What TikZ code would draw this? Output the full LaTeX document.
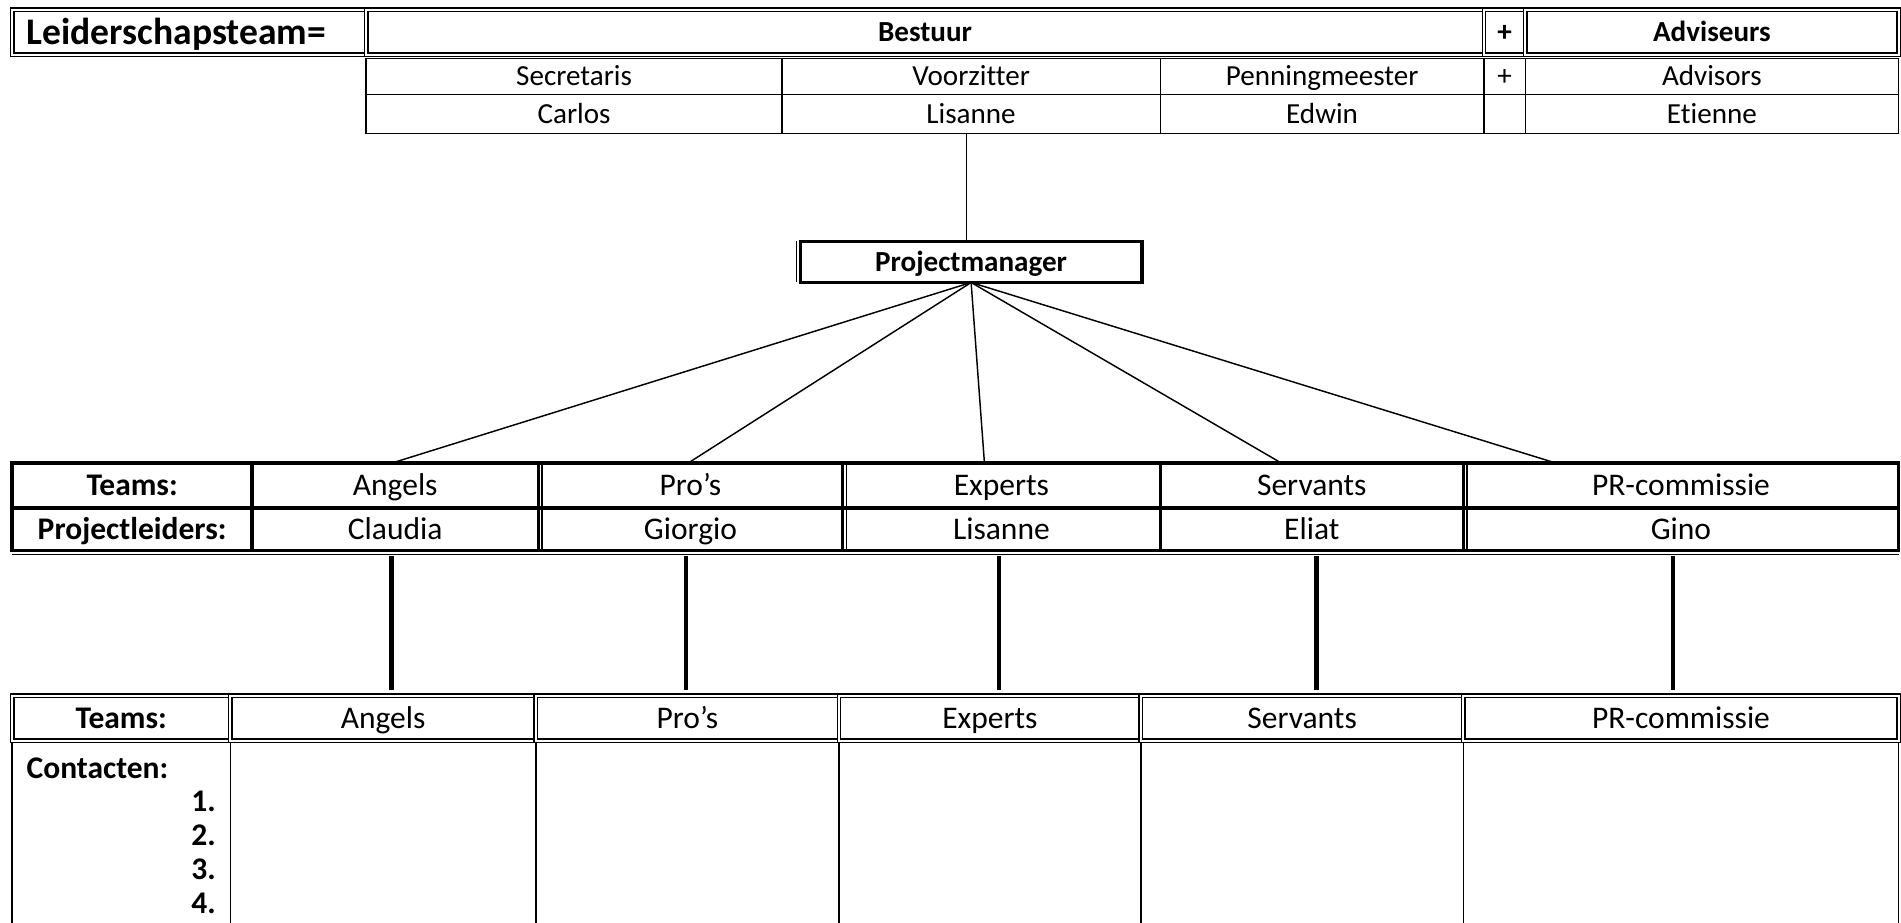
\documentclass[tikz,border=0pt]{standalone}
\usepackage{fontspec}
\setmainfont{Carlito}[Ligatures=NoCommon]
\newcommand\tcell[7]{\node[#1,minimum width={(#5)-(#3)},minimum height={(#6)-(#4)}] (#2) at ({((#3)+(#5))/2},{((#4)+(#6))/2}) {#7};}
\begin{document}
\begin{tikzpicture}[x=1pt,y=-1pt,
  base/.style={inner sep=0pt, outer sep=0pt, text=black},
  fsmall/.style={font=\fontsize{24}{28}\selectfont, text height=15.5pt, text depth=0pt},
  fsmallb/.style={font=\fontsize{24}{28}\selectfont\bfseries, text height=15.5pt, text depth=0pt},
  fbig/.style={font=\fontsize{26}{30}\selectfont, text height=16.8pt, text depth=0pt},
  fbigb/.style={font=\fontsize{26}{30}\selectfont\bfseries, text height=16.8pt, text depth=0pt},
  dblcell/.style={base, draw=black, double=white, line width=1.2pt, double distance=1.6pt},
  thincell/.style={base, draw=black, line width=1.1pt},
  thickcell/.style={base, draw=black, line width=2.8pt},
  pmbox/.style={base, draw=black, line width=2.6pt},
  fanline/.style={line width=1.2pt},
  vconn/.style={line width=3.6pt},
  thinline/.style={line width=1.1pt}
]
\useasboundingbox (0,0) rectangle (1568,761);

% ---------- top table, row 1 ----------
\tcell{dblcell,font=\fontsize{31}{35}\selectfont\bfseries,text height=20pt,text depth=0pt,text width={302-10-24},align=left}{lead}{10}{8}{302}{45}{Leiderschapsteam=}
\tcell{dblcell,fsmallb}{bestuur}{302}{8}{1224}{45}{Bestuur}
\tcell{dblcell,fsmallb}{plus1}{1224}{8}{1258}{45}{+}
\tcell{dblcell,fsmallb}{adviseurs}{1258}{8}{1566}{45}{Adviseurs}

% ---------- top table, rows 2-3 ----------
\tcell{thincell,fsmall}{secr}{302}{48}{645}{78}{Secretaris}
\tcell{thincell,fsmall}{voorz}{645}{48}{957}{78}{Voorzitter}
\tcell{thincell,fsmall}{penn}{957}{48}{1224}{78}{Penningmeester}
\tcell{thincell,fsmall}{plus2}{1224}{48}{1258}{78}{+}
\tcell{thincell,fsmall}{advisors}{1258}{48}{1566}{78}{Advisors}
\tcell{thincell,fsmall}{carlos}{302}{78}{645}{110}{Carlos}
\tcell{thincell,fsmall}{lisTop}{645}{78}{957}{110}{Lisanne}
\tcell{thincell,fsmall}{edwin}{957}{78}{1224}{110}{Edwin}
\tcell{thincell,fsmall}{blank}{1224}{78}{1258}{110}{}
\tcell{thincell,fsmall}{etienne}{1258}{78}{1566}{110}{Etienne}

% ---------- project manager ----------
\tcell{pmbox,fsmallb}{pm}{660}{199}{942}{233}{Projectmanager}
\draw[thinline] ([xshift=-3pt]pm.north west) -- ([xshift=-3pt]pm.south west);
\draw[fanline] ([xshift=-4pt]lisTop.south) -- ([xshift=-4pt]lisTop.south |- pm.north);

% ---------- middle table ----------
\tcell{thickcell,fbigb}{mTeams}{10}{382}{208}{419}{Teams:}
\tcell{thickcell,fbig}{mAngels}{208}{382}{444}{419}{Angels}
\tcell{thickcell,fbig}{mPros}{444}{382}{695}{419}{Pro’s}
\tcell{thickcell,fbig}{mExperts}{695}{382}{957}{419}{Experts}
\tcell{thickcell,fbig}{mServants}{957}{382}{1207}{419}{Servants}
\tcell{thickcell,fbig}{mPR}{1207}{382}{1566}{419}{PR-commissie}
\tcell{thickcell,fbigb}{mLeiders}{10}{419}{208}{454}{Projectleiders:}
\tcell{thickcell,fbig}{claudia}{208}{419}{444}{454}{Claudia}
\tcell{thickcell,fbig}{giorgio}{444}{419}{695}{454}{Giorgio}
\tcell{thickcell,fbig}{lisMid}{695}{419}{957}{454}{Lisanne}
\tcell{thickcell,fbig}{eliat}{957}{419}{1207}{454}{Eliat}
\tcell{thickcell,fbig}{gino}{1207}{419}{1566}{454}{Gino}
% double rules of the middle table
\draw[thinline] ([xshift=3pt]mPros.north west) -- ([xshift=3pt]giorgio.south west);
\draw[thinline] ([xshift=3pt]mExperts.north west) -- ([xshift=3pt]lisMid.south west);
\draw[thinline] ([xshift=3pt]mPR.north west) -- ([xshift=3pt]gino.south west);
\draw[thinline] ([yshift=-3.5pt]mLeiders.south west) -- ([yshift=-3.5pt]gino.south east);

% ---------- fan from project manager ----------
\draw[fanline] (pm.south) -- ([xshift=-3pt]mAngels.north);
\draw[fanline] (pm.south) -- ([xshift=-2pt]mPros.north);
\draw[fanline] (pm.south) -- ([xshift=-14pt]mExperts.north);
\draw[fanline] (pm.south) -- ([xshift=-25pt]mServants.north);
\draw[fanline] (pm.south) -- ([xshift=-103pt]mPR.north);

% ---------- bottom table, top row ----------
\tcell{dblcell,fbigb}{bTeams}{10}{574}{190}{611}{Teams:}
\tcell{dblcell,fbig}{bAngels}{190}{574}{442}{611}{Angels}
\tcell{dblcell,fbig}{bPros}{442}{574}{692}{611}{Pro’s}
\tcell{dblcell,fbig}{bExperts}{692}{574}{941}{611}{Experts}
\tcell{dblcell,fbig}{bServants}{941}{574}{1207}{611}{Servants}
\tcell{dblcell,fbig}{bPR}{1207}{574}{1566}{611}{PR-commissie}

% ---------- bottom table, contact area ----------
\coordinate (bEnd) at (0,763);
\foreach \n in {bTeams,bAngels,bPros,bExperts,bServants}{
  \draw[thinline] ([yshift=-2pt]\n.south west) -- (\n.south west |- bEnd);
}
\draw[thinline] ([yshift=-2pt]bPR.south west) -- (bPR.south west |- bEnd);
\draw[thinline] ([yshift=-2pt]bPR.south east) -- (bPR.south east |- bEnd);

\node[base,fbigb,anchor=west] (contacten) at (22,634) {Contacten:};
\node[base,fbigb,anchor=east] (c1) at (178,661) {1.};
\node[base,fbigb,anchor=east] (c2) at (178,689) {2.};
\node[base,fbigb,anchor=east] (c3) at (178,717) {3.};
\node[base,fbigb,anchor=east] (c4) at (178,745) {4.};

% ---------- thick vertical connectors ----------
\draw[vconn] ([xshift=-3pt,yshift=-5pt]claudia.south) -- ([xshift=-3pt,yshift=5pt]claudia.south |- bAngels.north);
\draw[vconn] ([xshift=-3.5pt,yshift=-5pt]giorgio.south) -- ([xshift=-3.5pt,yshift=5pt]giorgio.south |- bPros.north);
\draw[vconn] ([xshift=-2pt,yshift=-5pt]lisMid.south) -- ([xshift=-2pt,yshift=5pt]lisMid.south |- bExperts.north);
\draw[vconn] ([xshift=4pt,yshift=-5pt]eliat.south) -- ([xshift=4pt,yshift=5pt]eliat.south |- bServants.north);
\draw[vconn] ([xshift=-6.5pt,yshift=-5pt]gino.south) -- ([xshift=-6.5pt,yshift=5pt]gino.south |- bPR.north);
\end{tikzpicture}
\end{document}
